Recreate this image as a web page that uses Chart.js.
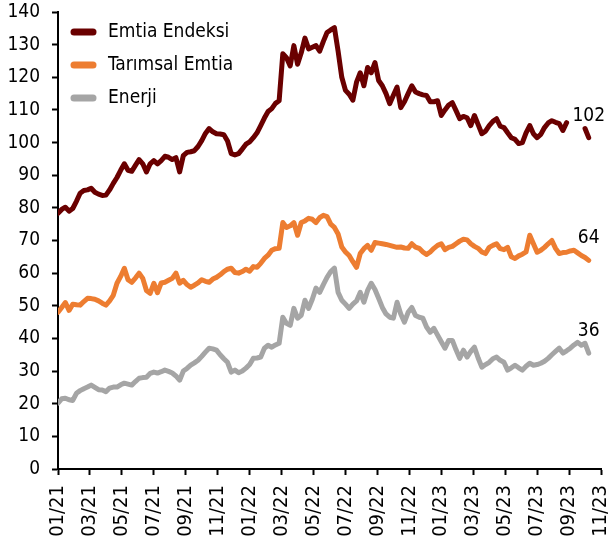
<!DOCTYPE html>
<html>
<head>
<meta charset="utf-8">
<script src="https://cdn.jsdelivr.net/npm/chart.js@4"></script>
<style>
  body { margin: 0; background: #fff; }
  canvas { display: block; }
</style>
</head>
<body>
<canvas id="commodityChart" width="611" height="545"></canvas>
<script>
// weekly series, first point = first week of 01/21
const emtiaEndeksi = [
    78.3, 79.5, 80.2, 79, 79.8, 82, 84.5, 85.3, 85.5, 86, 84.8, 84.2, 83.8, 83.9, 85.5, 87.5, 89.3, 91.5, 93.5, 91.5,
    91.2, 93, 94.8, 93.5, 91, 93.5, 94.5, 93.5, 94.5, 95.8, 95.5, 94.8, 95.4, 91, 96, 97, 97.2, 97.5, 98.8, 100.6,
    102.8, 104.3, 103.3, 102.7, 102.6, 102.4, 100.5, 96.6, 96.2, 96.6, 98, 99.5, 100.2, 101.5, 103, 105.2, 107.5, 109.5, 110.4, 112,
    112.8, 127.2, 126, 123.5, 129.7, 124, 127.5, 132, 128.7, 129.2, 129.7, 128, 131, 133.7, 134.5, 135.2, 128, 120, 116, 114.8,
    113, 118.5, 121.4, 117.4, 123, 121.4, 124.5, 119, 117.4, 115, 111.9, 114.5, 117, 110.7, 112.5, 115, 117.4, 115.5, 115, 114.6,
    114.4, 112.5, 112.5, 112.8, 108.3, 110, 111.5, 112.2, 109.8, 107.3, 108, 107.6, 105.2, 108.3, 105.5, 102.7, 103.5, 105.2, 106.5, 107.3,
    105, 104.6, 103, 101.5, 101, 99.7, 100, 103, 105.2, 102.7, 101.5, 102.5, 104.6, 106, 106.7, 106.2, 105.8, 103.7, 106.1, null,
    null, null, null, 104.3, 101.5
];
const tarimsalEmtia = [
    48, 49.5, 51, 48.6, 50.5, 50.3, 50.2, 51.3, 52.3, 52.2, 52, 51.5, 50.8, 50.2, 51.5, 53.2, 56.9, 59, 61.5, 58,
    57.2, 58.5, 60, 58.4, 54.7, 53.8, 56.9, 54, 57, 57.2, 57.8, 58.4, 60, 56.9, 57.8, 56.5, 55.7, 56.3, 57, 58,
    57.5, 57.2, 58.2, 58.7, 59.5, 60.5, 61.2, 61.5, 60.2, 60, 60.5, 61.2, 60.6, 62, 61.8, 63, 64.5, 65.5, 67, 67.5,
    67.6, 75.5, 74, 74.5, 75.5, 71.6, 75.5, 76, 76.8, 76.5, 75.5, 77, 77.7, 77.3, 75, 74, 72, 68, 66.5, 65.4,
    63.5, 61.8, 66, 67.5, 68.5, 67, 69.4, 69.2, 69, 68.8, 68.5, 68.2, 67.9, 68, 67.7, 67.6, 69, 68, 67.6, 66.5,
    65.7, 66.5, 67.6, 68.5, 69, 67.2, 67.9, 68.2, 69, 69.8, 70.4, 70.2, 69, 68.2, 67.6, 66.5, 66, 67.9, 68.5, 69,
    67.5, 67.2, 67.9, 65, 64.5, 65.3, 65.8, 66.5, 71.6, 69, 66.4, 67, 67.9, 69, 70, 67.6, 66, 66.3, 66.4, 66.8,
    67, 66.2, 65.4, 64.8, 63.9
];
const enerji = [
    20.2, 21.5, 21.7, 21.2, 21, 23.2, 24, 24.6, 25.1, 25.7, 25, 24.3, 24.2, 23.7, 24.8, 25.1, 25.1, 25.8, 26.3, 26,
    25.7, 26.8, 27.8, 28, 28.1, 29.3, 29.7, 29.4, 29.8, 30.3, 29.9, 29.4, 28.5, 27.2, 30, 30.8, 31.8, 32.5, 33.3, 34.5,
    35.8, 37, 36.8, 36.4, 35, 33.8, 32.7, 29.7, 30.3, 29.5, 30, 30.9, 32, 33.9, 34, 34.3, 37, 37.9, 37.3, 38,
    38.5, 46.5, 44.6, 44, 49.2, 46.2, 47.1, 51.7, 49.2, 52, 55.4, 54.1, 56.5, 58.7, 60.5, 61.5, 54.1, 51.7, 50.5, 49.2,
    50.5, 51.5, 54.1, 51.1, 54.7, 56.9, 55, 52.3, 49.5, 47.5, 46.5, 46.2, 51.1, 47.5, 45, 48, 49.5, 47, 46.5, 46.2,
    43.5, 41.9, 43.1, 41, 39, 37, 39.4, 39.4, 36.5, 33.9, 36.4, 34.3, 36, 37.3, 34, 31.2, 32, 32.7, 33.8, 34.3,
    33.3, 32.7, 30.3, 31, 31.8, 31, 30.3, 31.5, 32.4, 31.8, 32, 32.4, 33, 33.9, 35, 36, 37, 35.5, 36.2, 37,
    38, 38.8, 37.9, 38.5, 35.5
];
const seriesNames = ['Emtia Endeksi', 'Tarımsal Emtia', 'Enerji'];
const seriesColors = ['#6a0000', '#ed7d31', '#a5a5a5'];
const tickLabels = ['01/21', '03/21', '05/21', '07/21', '09/21', '11/21', '01/22', '03/22', '05/22',
    '07/22', '09/22', '11/22', '01/23', '03/23', '05/23', '07/23', '09/23', '11/23'];

const weeks = emtiaEndeksi.map((v, i) => i);
const WEEKS_PER_MONTH = 52 / 12;
const FONT = "'DejaVu Sans Condensed', 'Liberation Sans', sans-serif";

// legend drawn by hand: short thick line + label, stacked in the top-left corner
const lineLegend = {
    id: 'lineLegend',
    afterDraw(chart) {
        const ctx = chart.ctx;
        ctx.save();
        ctx.font = '19px ' + FONT;
        ctx.textBaseline = 'middle';
        ctx.lineCap = 'round';
        ctx.lineWidth = 7;
        chart.data.datasets.forEach((ds, i) => {
            const y = 32 + i * 33;
            ctx.strokeStyle = ds.borderColor;
            ctx.beginPath();
            ctx.moveTo(74, y);
            ctx.lineTo(93, y);
            ctx.stroke();
            ctx.fillStyle = '#000';
            ctx.fillText(ds.label, 108, y);
        });
        ctx.restore();
    }
};

// last value written above the end of each line
const endLabels = {
    id: 'endLabels',
    afterDatasetsDraw(chart) {
        const ctx = chart.ctx;
        ctx.save();
        ctx.font = '19px ' + FONT;
        ctx.fillStyle = '#000';
        ctx.textAlign = 'center';
        ctx.textBaseline = 'middle';
        chart.data.datasets.forEach((ds, i) => {
            const meta = chart.getDatasetMeta(i);
            const last = ds.data.length - 1;
            const pt = meta.data[last];
            ctx.fillText(Math.round(ds.data[last]), pt.x, pt.y - 22);
        });
        ctx.restore();
    }
};

function makeDataset(i, values) {
    return {
        label: seriesNames[i],
        data: values,
        borderColor: seriesColors[i],
        backgroundColor: seriesColors[i],
        borderWidth: 5,
        borderJoinStyle: 'round',
        borderCapStyle: 'round',
        pointRadius: 0,
        tension: 0,
        spanGaps: false
    };
}

new Chart(document.getElementById('commodityChart'), {
    type: 'line',
    data: {
        labels: weeks,
        datasets: [
            makeDataset(0, emtiaEndeksi),
            makeDataset(1, tarimsalEmtia),
            makeDataset(2, enerji)
        ]
    },
    options: {
        responsive: false,
        animation: false,
        layout: { padding: { top: 12, right: 10, left: 0, bottom: 0 } },
        plugins: { legend: { display: false }, tooltip: { enabled: false } },
        scales: {
            x: {
                type: 'linear',
                min: 0,
                max: 34 * WEEKS_PER_MONTH,
                afterBuildTicks: scale => {
                    scale.ticks = tickLabels.map((l, i) => ({ value: i * 2 * WEEKS_PER_MONTH }));
                },
                afterFit: scale => {
                    scale.height = 76;
                    scale.paddingLeft = 0;
                    scale.paddingRight = 0;
                },
                grid: { display: true, drawOnChartArea: false, drawTicks: true, tickLength: 6, tickWidth: 2, tickColor: '#000' },
                border: { display: true, color: '#000', width: 2 },
                ticks: {
                    autoSkip: false,
                    minRotation: 90,
                    maxRotation: 90,
                    padding: 10,
                    color: '#000',
                    font: { family: FONT, size: 20 },
                    callback: (v, i) => tickLabels[i]
                }
            },
            y: {
                min: 0,
                max: 140,
                afterFit: scale => {
                    scale.width = 58;
                    scale.paddingTop = 0;
                    scale.paddingBottom = 0;
                },
                grid: { display: true, drawOnChartArea: false, drawTicks: true, tickLength: 6, tickWidth: 2, tickColor: '#000' },
                border: { display: true, color: '#000', width: 2 },
                ticks: {
                    stepSize: 10,
                    padding: 12,
                    color: '#000',
                    font: { family: FONT, size: 19 }
                }
            }
        }
    },
    plugins: [lineLegend, endLabels]
});
</script>
</body>
</html>
